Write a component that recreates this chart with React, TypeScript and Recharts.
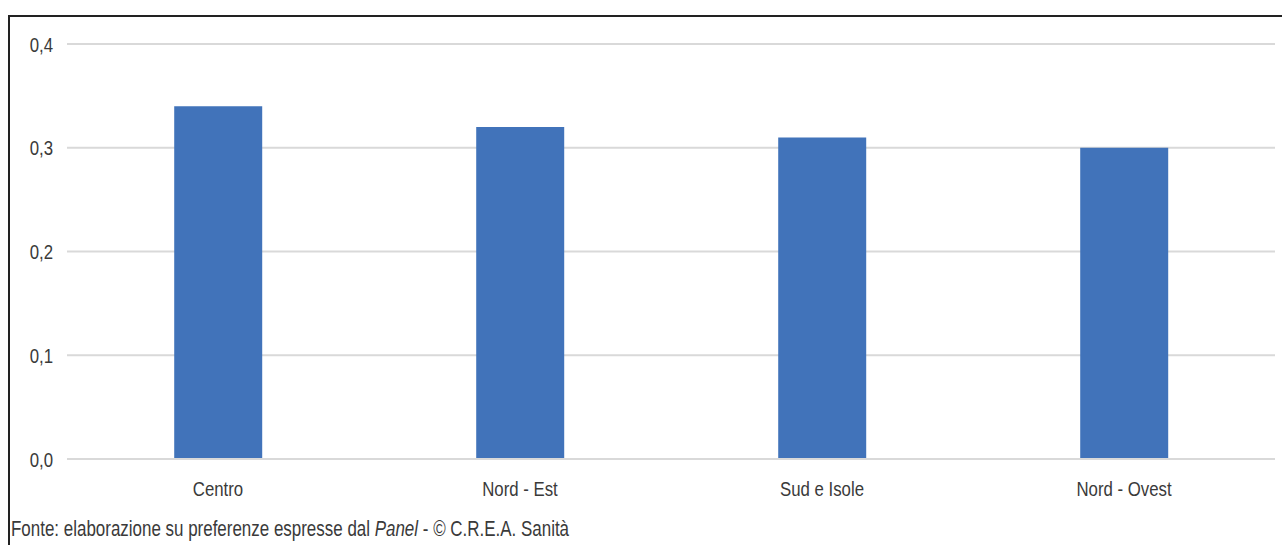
import React from 'react';
import { BarChart, Bar, XAxis, YAxis, CartesianGrid } from 'recharts';

const regions = ['Centro', 'Nord - Est', 'Sud e Isole', 'Nord - Ovest'];
const shares = [0.34, 0.32, 0.31, 0.3];
const yTicks = [0, 0.1, 0.2, 0.3, 0.4];

// no narrow face installed, so squeeze Liberation Sans horizontally
const FONT = "'Liberation Sans', Arial, sans-serif";
const SQUEEZE = 0.8;
const TEXT_COLOR = '#3a3a3a';
const BAR_COLOR = '#4173ba';

const data = regions.map((name, i) => ({ name, value: shares[i] }));

const fmt = (v: number) => v.toFixed(1).replace('.', ',');

function YTick(props: any) {
  const { x, y, payload } = props;
  return (
    <g transform={`translate(${x},${y}) scale(${SQUEEZE},1)`}>
      <text textAnchor="end" dy="0.36em" fill={TEXT_COLOR} fontSize={21} fontFamily={FONT}>
        {fmt(payload.value)}
      </text>
    </g>
  );
}

function XTick(props: any) {
  const { x, y, payload } = props;
  return (
    <g transform={`translate(${x},${y}) scale(${SQUEEZE},1)`}>
      <text textAnchor="middle" dy="0.71em" fill={TEXT_COLOR} fontSize={21} fontFamily={FONT}>
        {payload.value}
      </text>
    </g>
  );
}

export default function App() {
  return (
    <div style={{ position: 'absolute', left: 0, top: 0, width: 1282, height: 545, background: '#fff', overflow: 'hidden', fontFamily: FONT }}>
      {/* frame: top and left edges only */}
      <div style={{ position: 'absolute', left: 8, top: 15, width: 1274, height: 2, background: '#222' }} />
      <div style={{ position: 'absolute', left: 8, top: 15, width: 2, height: 530, background: '#222' }} />

      <div style={{ position: 'absolute', left: 0, top: 0 }}>
        <BarChart width={1282} height={520} data={data} margin={{ top: 44, right: 7, left: 0, bottom: 21 }} barCategoryGap="35.5%">
          <CartesianGrid vertical={false} stroke="#d9d9d9" strokeWidth={2} />
          <YAxis
            type="number"
            domain={[0, 0.4]}
            ticks={yTicks}
            width={67}
            axisLine={false}
            tickLine={false}
            tickMargin={8}
            tick={<YTick />}
          />
          <XAxis
            dataKey="name"
            height={40}
            axisLine={{ stroke: '#d9d9d9', strokeWidth: 2 }}
            tickLine={false}
            tickMargin={16}
            tick={<XTick />}
          />
          <Bar dataKey="value" fill={BAR_COLOR} isAnimationActive={false} />
        </BarChart>
      </div>

      <div
        style={{
          position: 'absolute', left: 11, top: 518, fontSize: 21.2, color: TEXT_COLOR, whiteSpace: 'nowrap',
          lineHeight: '22px', transform: `scaleX(${SQUEEZE})`, transformOrigin: 'left top',
        }}
      >
        Fonte: elaborazione su preferenze espresse dal <i>Panel</i> - © C.R.E.A. Sanità
      </div>
    </div>
  );
}
